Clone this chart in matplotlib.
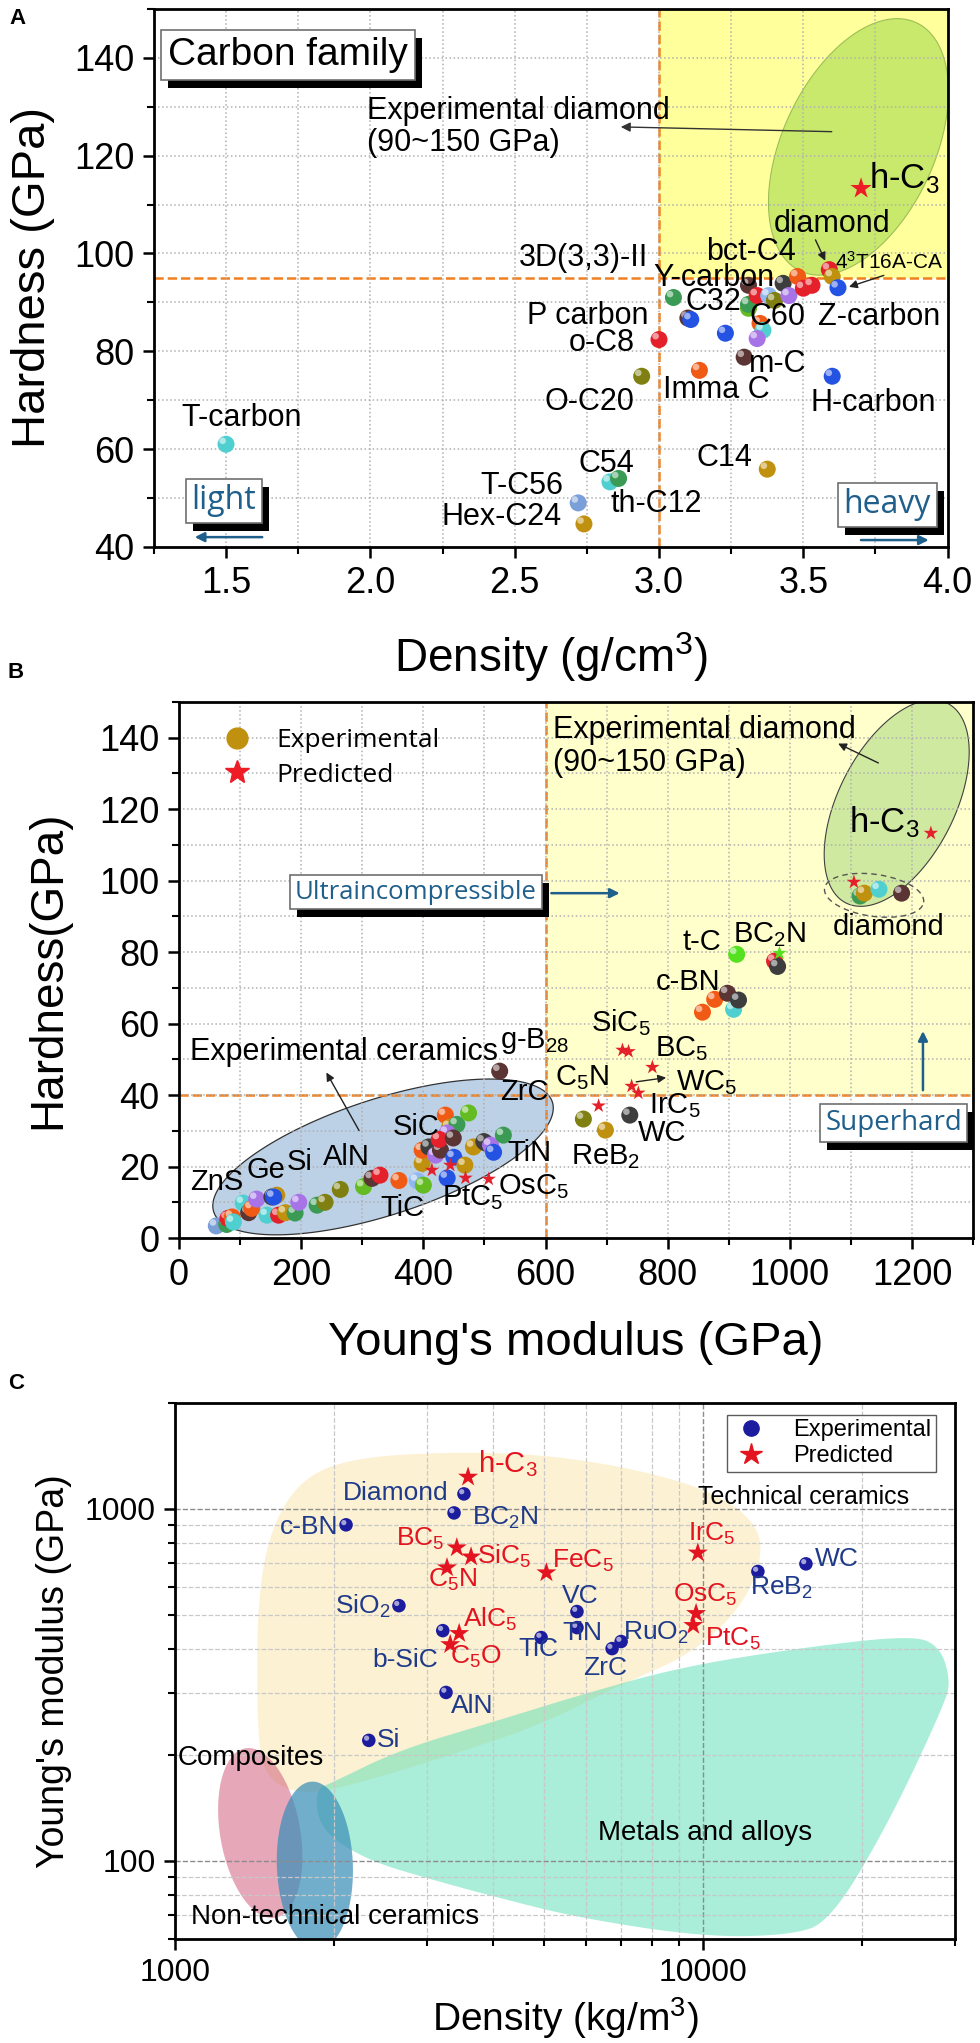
import numpy as np
import matplotlib
matplotlib.use('Agg')
import matplotlib.pyplot as plt
import matplotlib.transforms as mtransforms
from matplotlib.patches import Polygon, Rectangle
from matplotlib.lines import Line2D
from matplotlib.ticker import MultipleLocator, FixedLocator, NullFormatter, FuncFormatter

plt.rcParams['font.family'] = ['Liberation Sans', 'DejaVu Sans']
plt.rcParams['mathtext.fontset'] = 'custom'
plt.rcParams['mathtext.rm'] = 'Liberation Sans'
plt.rcParams['mathtext.it'] = 'Liberation Sans:italic'
plt.rcParams['mathtext.bf'] = 'Liberation Sans:bold'

# ---------------- colours ----------------
COL = dict(sb='#7b9fd8', gr='#3b9b55', cy='#4fcfcf', og='#f05a14', rd='#e4202a',
           pu='#a674e6', dg='#3d3d3d', go='#c0900f', ol='#7f7f12', br='#5b3434',
           bl='#2453e4', li='#64bb22', lb='#8fb8f0', lg='#55e020')
ORANGE = '#f08020'
BOXBLUE = '#1f5f8b'

# ---------------- panel A data : carbon family ----------------
a_rho = [1.50, 2.74, 2.72, 2.83, 2.86, 3.375, 2.94, 3.00, 3.14, 3.295, 3.60,
         3.10, 3.11, 3.23, 3.05, 3.31, 3.35, 3.36, 3.34, 3.31,
         3.31, 3.34, 3.38, 3.40, 3.43, 3.45, 3.48, 3.50, 3.53, 3.59, 3.60, 3.62]
a_hv = [61.0, 44.7, 49.0, 53.3, 54.0, 55.9, 74.9, 82.4, 76.1, 78.8, 74.9,
        86.8, 86.5, 83.7, 91.0, 88.8, 85.7, 84.3, 82.6, 89.6,
        93.5, 91.4, 91.4, 90.4, 93.9, 91.4, 95.3, 92.9, 93.5, 96.7, 95.3, 93.0]
a_col = ['cy', 'go', 'sb', 'cy', 'gr', 'go', 'ol', 'rd', 'og', 'br', 'bl',
         'br', 'bl', 'bl', 'gr', 'li', 'og', 'cy', 'pu', 'gr',
         'br', 'rd', 'lb', 'ol', 'dg', 'pu', 'og', 'rd', 'rd', 'rd', 'go', 'bl']
a_pred_rho = [3.70]
a_pred_hv = [113.3]
a_thr_rho, a_thr_hv = 3.0, 95.0
a_labels = [('T-carbon', 1.555, 66.3), ('C54', 2.816, 57.0), ('T-C56', 2.524, 52.4),
            ('Hex-C24', 2.455, 46.1), ('th-C12', 2.99, 48.8), ('C14', 3.226, 58.2),
            ('O-C20', 2.76, 69.6), ('Imma C', 3.198, 72.0), ('m-C', 3.41, 77.5),
            ('H-carbon', 3.743, 69.4), ('o-C8', 2.80, 81.8), ('P carbon', 2.753, 87.3),
            ('C60', 3.41, 87.0), ('Z-carbon', 3.764, 87.0), ('C32', 3.19, 90.0),
            ('Y-carbon', 3.19, 95.0), ('bct-C4', 3.32, 100.4), ('3D(3,3)-II', 2.74, 99.0),
            ('diamond', 3.60, 106.0)]

# ---------------- panel B data : hardness vs Young's modulus ----------------
b_E = [61, 78, 80, 87, 89, 105, 114, 119, 127, 144, 152, 160, 155, 163, 174, 190, 196,
       226, 239, 264, 302, 316, 329, 360, 390, 398, 400, 398, 409, 420, 428, 439, 450,
       436, 443, 455, 474, 439, 426, 449, 468, 482, 502, 499, 510, 515, 531, 525,
       662, 698, 738, 857, 877, 898, 908, 916, 913, 975, 980,
       1115, 1122, 1146, 1183]
b_H = [3.4, 3.8, 5.5, 5.9, 4.5, 9.8, 7.1, 8.3, 10.9, 6.4, 11.5, 12.0, 11.5, 6.4, 7.1, 7.0, 10.0,
       9.2, 10.0, 13.6, 14.4, 16.7, 17.6, 16.1, 16.0, 20.9, 14.8, 24.6, 25.5, 23.2, 24.6, 16.8, 22.6,
       34.4, 31.0, 31.8, 35.0, 29.4, 27.6, 28.0, 20.4, 25.5, 26.6, 27.0, 26.0, 24.0, 28.8, 46.7,
       33.3, 30.2, 34.4, 63.2, 66.8, 68.5, 64.0, 66.6, 79.4, 77.5, 76.0,
       95.7, 96.5, 97.6, 96.5]
b_col = ['sb', 'gr', 'rd', 'og', 'cy', 'cy', 'br', 'og', 'pu', 'cy', 'dg', 'go', 'bl', 'rd', 'go', 'gr', 'pu',
         'gr', 'ol', 'ol', 'li', 'br', 'rd', 'og', 'lb', 'go', 'li', 'og', 'dg', 'pu', 'br', 'bl', 'bl',
         'og', 'go', 'gr', 'li', 'pu', 'rd', 'br', 'go', 'go', 'dg', 'dg', 'pu', 'bl', 'gr', 'br',
         'ol', 'go', 'dg', 'og', 'og', 'br', 'cy', 'dg', 'lg', 'rd', 'dg',
         'gr', 'go', 'cy', 'br']
b_pred_E = [414, 444, 469, 507, 687, 726, 736, 775, 741, 752, 1105, 1231, 983]
b_pred_H = [19.0, 20.4, 16.8, 16.5, 37.0, 52.6, 52.2, 47.8, 42.5, 40.6, 99.6, 113.3, 79.7]
b_pred_col = ['rd'] * 12 + ['lg']
b_thr_E, b_thr_H = 600, 40
b_labels = [('t-C', 825, 82.8), ('BC$_2$N', 907, 84.8), ('c-BN', 780, 71.6),
            ('SiC$_5$', 674, 60.4), ('BC$_5$', 780, 52.9), ('g-B$_{28}$', 526, 55.1),
            ('ZrC', 526, 40.8), ('C$_5$N', 616, 44.8), ('WC$_5$', 813, 43.6),
            ('IrC$_5$', 769, 37.2), ('WC', 752, 29.4), ('ReB$_2$', 641, 22.7),
            ('TiN', 538, 23.8), ('OsC$_5$', 523, 14.3), ('PtC$_5$', 431, 11.2),
            ('TiC', 330, 8.4), ('SiC', 349, 31.0), ('AlN', 236, 22.7), ('Si', 177, 21.3),
            ('Ge', 111, 19.0), ('ZnS', 18, 15.7), ('diamond', 1070, 87.0)]

# ---------------- panel C data : Ashby map ----------------
c_exp_names = ['Diamond', 'BC$_2$N', 'c-BN', 'SiO$_2$', 'b-SiC', 'AlN', 'Si', 'VC', 'TiN',
               'TiC', 'ZrC', 'RuO$_2$', 'ReB$_2$', 'WC']
c_exp_rho = [3525, 3376, 2108, 2655, 3214, 3260, 2328, 5770, 5770, 4935, 6725, 6995, 12700, 15660]
c_exp_E = [1103, 974, 901, 531, 451, 301, 220, 511, 460, 431, 401, 420, 664, 698]
c_exp_lab = [(3289, 1110, 'right'), (3651, 943, 'left'), (2035, 889, 'right'), (2553, 528, 'right'),
             (3149, 373, 'right'), (3333, 275, 'left'), (2415, 220, 'left'), (5405, 564, 'left'),
             (5405, 443, 'left'), (4467, 399, 'left'), (5929, 353, 'left'), (7047, 443, 'left'),
             (12280, 597, 'left'), (16300, 721, 'left')]
c_pred_names = ['BC$_5$', 'SiC$_5$', 'C$_5$N', 'AlC$_5$', 'C$_5$O', 'FeC$_5$', 'IrC$_5$',
                'OsC$_5$', 'PtC$_5$']
c_pred_rho = [3417, 3636, 3274, 3452, 3320, 5050, 9774, 9700, 9580]
c_pred_E = [776, 731, 681, 443, 412, 659, 750, 505, 467]
c_pred_lab = [(3243, 822, 'right'), (3733, 731, 'left'), (3014, 629, 'left'), (3510, 485, 'left'),
              (3320, 381, 'left'), (5176, 713, 'left'), (9376, 849, 'left'), (8776, 570, 'left'),
              (10090, 426, 'left')]
c_hc3 = (3589, 1232)

# region outlines (axes fraction)
tech_ceramics = [(0.105, 0.446), (0.106, 0.632), (0.122, 0.763), (0.160, 0.856), (0.224, 0.897),
                 (0.353, 0.909), (0.481, 0.903), (0.609, 0.871), (0.699, 0.828), (0.747, 0.772),
                 (0.753, 0.707), (0.724, 0.614), (0.660, 0.530), (0.571, 0.474), (0.468, 0.399),
                 (0.353, 0.343), (0.250, 0.297), (0.173, 0.269), (0.128, 0.287), (0.109, 0.334)]
metals = [(0.179, 0.278), (0.203, 0.293), (0.288, 0.353), (0.417, 0.409), (0.519, 0.455),
          (0.647, 0.507), (0.801, 0.543), (0.946, 0.567), (0.981, 0.545), (0.994, 0.483),
          (0.987, 0.440), (0.917, 0.222), (0.840, 0.032), (0.788, 0.007), (0.677, 0.004),
          (0.519, 0.039), (0.417, 0.076), (0.331, 0.110), (0.246, 0.147), (0.186, 0.203)]

fig = plt.figure(figsize=(9.8, 20.43), dpi=100)
axA = fig.add_axes([0.157, 0.7323, 0.810, 0.2633])
axB = fig.add_axes([0.1827, 0.394, 0.8102, 0.2624])
axC = fig.add_axes([0.1786, 0.0509, 0.7959, 0.2624])


def balls(ax, x, y, cols, s=150, z=4):
    r = np.sqrt(s) * 0.2
    tr = mtransforms.offset_copy(ax.transData, fig=fig, x=-r, y=r, units='points')
    for i, (xi, yi, c) in enumerate(zip(x, y, cols)):
        ax.scatter([xi], [yi], s=s, color=c, edgecolors='none', zorder=z + i * 0.01)
        ax.scatter([xi], [yi], s=s * 0.15, color='white', alpha=0.55, edgecolors='none',
                   zorder=z + i * 0.01 + 0.005, transform=tr)


def ellipse(ax, xy, a, b, ang, **kw):
    t = np.linspace(0, 2 * np.pi, 240)
    th = np.radians(ang)
    cx, cy = ax.transData.transform(xy)
    px = cx + a * np.cos(t) * np.cos(th) - b * np.sin(t) * np.sin(th)
    py = cy + a * np.cos(t) * np.sin(th) + b * np.sin(t) * np.cos(th)
    pts = ax.transData.inverted().transform(np.column_stack([px, py]))
    ax.add_patch(Polygon(pts, closed=True, **kw))


def smooth(pts, n=3):
    p = np.array(pts)
    for _ in range(n):
        q = np.roll(p, -1, axis=0)
        a = 0.75 * p + 0.25 * q
        b = 0.25 * p + 0.75 * q
        p = np.stack([a, b], axis=1).reshape(-1, 2)
    return p


boxed = []


def sbox(ax, x, y, s, color, size, family):
    t = ax.text(x, y, s, color=color, fontsize=size, family=family, va='center', ha='left',
                bbox=dict(boxstyle='square,pad=0.18', fc='white', ec='#707070', lw=1.2), zorder=9)
    boxed.append((ax, t))


def style(ax, tsize):
    ax.set_axisbelow(False)
    for sp in ax.spines.values():
        sp.set_linewidth(2)
        sp.set_zorder(10)
    ax.tick_params(which='major', direction='out', length=8, width=1.8, labelsize=tsize, pad=6)
    ax.tick_params(which='minor', direction='out', length=5, width=1.5)
    ax.tick_params(top=False, right=False, which='both')


# ======================= panel A =======================
axA.set_xlim(1.25, 4.0)
axA.set_ylim(40, 150)
axA.xaxis.set_major_locator(MultipleLocator(0.5))
axA.xaxis.set_minor_locator(MultipleLocator(0.25))
axA.yaxis.set_major_locator(MultipleLocator(20))
axA.yaxis.set_minor_locator(MultipleLocator(10))
axA.xaxis.set_major_formatter(FuncFormatter(lambda v, p: '%.1f' % v))
style(axA, 26)
axA.grid(True, which='both', ls=':', color='#b0b0b0', lw=1.1)
axA.fill_between([a_thr_rho, 4.0], a_thr_hv, 150, color='#ffff9c', zorder=0.5, lw=0)
axA.axvline(a_thr_rho, color=ORANGE, ls='--', lw=1.8, zorder=1.5)
axA.axhline(a_thr_hv, color=ORANGE, ls='--', lw=1.8, zorder=1.5)
ellipse(axA, (3.691, 121.8), 137, 76, 65, fc='#c9e96c', ec='#9cbf55', lw=0.8, zorder=1)
balls(axA, a_rho, a_hv, [COL[c] for c in a_col], s=150)
axA.scatter(a_pred_rho, a_pred_hv, marker='*', s=260, color='#ee1c25', zorder=6, edgecolors='none')
for t, x, y in a_labels:
    axA.text(x, y, t, fontsize=22, ha='center', va='center', zorder=7)
axA.text(3.726, 115.5, 'h-C$_3$', fontsize=25, ha='left', va='center', zorder=7)
axA.text(3.61, 98.2, '4$^3$T16A-CA', fontsize=15, ha='left', va='center', zorder=7)
axA.text(1.99, 125.8, 'Experimental diamond\n(90~150 GPa)', fontsize=22, ha='left', va='center',
         linespacing=1.1, zorder=7)
axA.annotate('', xy=(2.858, 125.9), xytext=(3.608, 124.9),
             arrowprops=dict(arrowstyle='-|>', color='#333333', lw=1, mutation_scale=14), zorder=7)
axA.annotate('', xy=(3.58, 98.0), xytext=(3.538, 103.3),
             arrowprops=dict(arrowstyle='-|>', color='#222222', lw=1, mutation_scale=12), zorder=7)
axA.annotate('', xy=(3.649, 93.0), xytext=(3.788, 95.7),
             arrowprops=dict(arrowstyle='-|>', color='#222222', lw=1, mutation_scale=12), zorder=7)
sbox(axA, 1.30, 140.6, 'Carbon family', 'black', 28, ['Liberation Sans'])
sbox(axA, 1.38, 49.4, 'light', BOXBLUE, 23, ['Open Sans'])
sbox(axA, 3.64, 48.6, 'heavy', BOXBLUE, 23, ['Open Sans'])
axA.annotate('', xy=(1.382, 42.0), xytext=(1.635, 42.0),
             arrowprops=dict(arrowstyle='-|>', color=BOXBLUE, lw=1.8, mutation_scale=14), zorder=7)
axA.annotate('', xy=(3.944, 41.4), xytext=(3.69, 41.4),
             arrowprops=dict(arrowstyle='-|>', color=BOXBLUE, lw=1.8, mutation_scale=14), zorder=7)
axA.set_xlabel('Density (g/cm$^3$)', fontsize=33)
axA.set_ylabel('Hardness (GPa)', fontsize=34)
axA.xaxis.set_label_coords(0.5, -0.155)
axA.yaxis.set_label_coords(-0.125, 0.5)

# ======================= panel B =======================
axB.set_xlim(0, 1300)
axB.set_ylim(0, 150)
axB.xaxis.set_major_locator(MultipleLocator(200))
axB.xaxis.set_minor_locator(MultipleLocator(100))
axB.yaxis.set_major_locator(MultipleLocator(20))
axB.yaxis.set_minor_locator(MultipleLocator(10))
style(axB, 26)
axB.grid(True, which='both', ls=':', color='#b0b0b0', lw=1.1)
axB.fill_between([b_thr_E, 1300], b_thr_H, 150, color='#ffffcc', zorder=0.5, lw=0)
axB.axvline(b_thr_E, color=ORANGE, ls='--', lw=1.8, zorder=1.5)
axB.axhline(b_thr_H, color=ORANGE, ls='--', lw=1.8, zorder=1.5)
ellipse(axB, (1175, 121.7), 112, 58, 63, fc='#cfe9a0', ec='#404040', lw=0.8, zorder=1)
ellipse(axB, (334, 22.7), 178, 58, 18, fc='#bcd0e6', ec='#333333', lw=0.9, zorder=1)
ellipse(axB, (1138, 95.9), 50, 21, -8, fc='none', ec='#555555', lw=1, ls=(0, (4, 3)), zorder=3)
balls(axB, b_E, b_H, [COL[c] for c in b_col], s=150)
axB.scatter(b_pred_E, b_pred_H, marker='*', s=120, color=[COL[c] for c in b_pred_col],
            zorder=6, edgecolors='none')
for t, x, y in b_labels:
    axB.text(x, y, t, fontsize=21, ha='left', va='center', zorder=7)
axB.text(1097, 116.4, 'h-C$_3$', fontsize=25, ha='left', va='center', zorder=7)
axB.text(613, 137.6, 'Experimental diamond\n(90~150 GPa)', fontsize=22, ha='left', va='center',
         linespacing=1.15, zorder=7)
axB.text(18, 52.0, 'Experimental ceramics', fontsize=22, ha='left', va='center', zorder=7)
axB.annotate('', xy=(1075, 138.7), xytext=(1149, 132.6),
             arrowprops=dict(arrowstyle='-|>', color='#222222', lw=1, mutation_scale=12), zorder=7)
axB.annotate('', xy=(239, 47.0), xytext=(297, 29.4),
             arrowprops=dict(arrowstyle='-|>', color='#222222', lw=1, mutation_scale=12), zorder=7)
axB.annotate('', xy=(802, 45.0), xytext=(744, 43.6),
             arrowprops=dict(arrowstyle='-|>', color='#222222', lw=1, mutation_scale=12), zorder=7)
sbox(axB, 190, 96.8, 'Ultraincompressible', BOXBLUE, 18.5, ['Open Sans'])
sbox(axB, 1058, 32.2, 'Superhard', BOXBLUE, 20, ['Open Sans'])
axB.annotate('', xy=(726, 96.5), xytext=(605, 96.5),
             arrowprops=dict(arrowstyle='-|>', color=BOXBLUE, lw=1.8, mutation_scale=14), zorder=7)
axB.annotate('', xy=(1218, 58.7), xytext=(1218, 40.6),
             arrowprops=dict(arrowstyle='-|>', color=BOXBLUE, lw=1.8, mutation_scale=14), zorder=7)
hB = [Line2D([], [], marker='o', ls='none', color=COL['go'], markersize=15),
      Line2D([], [], marker='*', ls='none', color='#ee1c25', markersize=18)]
axB.legend(hB, ['Experimental', 'Predicted'], loc='upper left', bbox_to_anchor=(0.01, 0.995),
           frameon=False, prop={'family': 'Open Sans', 'size': 19}, handletextpad=0.5,
           labelspacing=0.35)
axB.set_xlabel("Young's modulus (GPa)", fontsize=34)
axB.set_ylabel('Hardness(GPa)', fontsize=33)
axB.xaxis.set_label_coords(0.5, -0.155)
axB.yaxis.set_label_coords(-0.137, 0.5)

# ======================= panel C =======================
axC.set_xscale('log')
axC.set_yscale('log')
axC.set_xlim(1000, 30000)
axC.set_ylim(60, 2000)
axC.xaxis.set_major_locator(FixedLocator([1000, 10000]))
axC.xaxis.set_minor_locator(FixedLocator([2000, 3000, 4000, 5000, 6000, 7000, 8000, 9000, 20000, 30000]))
axC.yaxis.set_major_locator(FixedLocator([100, 1000]))
axC.yaxis.set_minor_locator(FixedLocator([60, 70, 80, 90, 200, 300, 400, 500, 600, 700, 800, 900, 2000]))
fmt = FuncFormatter(lambda v, p: '%d' % v)
axC.xaxis.set_major_formatter(fmt)
axC.yaxis.set_major_formatter(fmt)
axC.xaxis.set_minor_formatter(NullFormatter())
axC.yaxis.set_minor_formatter(NullFormatter())
style(axC, 23)
axC.grid(True, which='major', ls='--', color='#8c8c8c', lw=1)
axC.grid(True, which='minor', ls='--', color='#c8c8c8', lw=0.9)
axC.add_patch(Polygon(smooth(tech_ceramics), closed=True, transform=axC.transAxes,
                      fc='#fcf1d2', ec='none', zorder=0.6))
axC.add_patch(Polygon(smooth(metals), closed=True, transform=axC.transAxes,
                      fc='#57ddb3', alpha=0.5, ec='none', zorder=0.7))
ellipse(axC, (1450, 120), 86, 40, 100, fc='#d2607f', alpha=0.55, ec='none', zorder=0.8)
ellipse(axC, (1840, 97), 84, 38, 92, fc='#3b8fb8', alpha=0.72, ec='none', zorder=0.9)
axC.scatter(c_exp_rho, c_exp_E, s=95, color='#1c1c9e', zorder=5, edgecolors='none')
trC = mtransforms.offset_copy(axC.transData, fig=fig, x=-1.6, y=1.6, units='points')
axC.scatter(c_exp_rho, c_exp_E, s=14, color='white', alpha=0.6, zorder=5.1, edgecolors='none',
            transform=trC)
axC.scatter(c_pred_rho + [c_hc3[0]], c_pred_E + [c_hc3[1]], marker='*', s=230, color='#e3141f',
            zorder=6, edgecolors='none')
for n, (x, y, ha) in zip(c_exp_names, c_exp_lab):
    axC.text(x, y, n, fontsize=19, color='#1f3a8a', ha=ha, va='center', zorder=7)
for n, (x, y, ha) in zip(c_pred_names, c_pred_lab):
    axC.text(x, y, n, fontsize=19, color='#e3141f', ha=ha, va='center', zorder=7)
axC.text(3750, 1349, 'h-C$_3$', fontsize=21, color='#e3141f', ha='left', va='center', zorder=7)
axC.text(9784, 1081, 'Technical ceramics', fontsize=18, ha='left', va='center', zorder=7)
axC.text(1013, 196, 'Composites', fontsize=20, ha='left', va='center', zorder=7)
axC.text(1072, 69.3, 'Non-technical ceramics', fontsize=20, ha='left', va='center', zorder=7)
axC.text(6324, 120, 'Metals and alloys', fontsize=20, ha='left', va='center', zorder=7)
hC = [Line2D([], [], marker='o', ls='none', color='#1c1c9e', markersize=11),
      Line2D([], [], marker='*', ls='none', color='#e3141f', markersize=16)]
legC = axC.legend(hC, ['Experimental', 'Predicted'], loc='upper right', bbox_to_anchor=(0.982, 0.987),
                  frameon=True, fancybox=False, edgecolor='#333333', fontsize=17, handletextpad=1.0,
                  labelspacing=0.15, borderpad=0.2, handlelength=1.6, borderaxespad=0.2)
legC.get_frame().set_linewidth(1)
legC.set_zorder(11)
axC.set_xlabel('Density (kg/m$^3$)', fontsize=28)
axC.set_ylabel("Young's modulus (GPa)", fontsize=27)
axC.xaxis.set_label_coords(0.5, -0.105)
axC.yaxis.set_label_coords(-0.132, 0.5)

fig.text(0.010, 0.996, 'A', fontsize=16, weight='bold', va='top')
fig.text(0.008, 0.676, 'B', fontsize=16, weight='bold', va='top')
fig.text(0.008, 0.328, 'C', fontsize=16, weight='bold', va='top')

# black drop shadows behind the boxed notes
fig.canvas.draw()
for ax, t in boxed:
    bb = t.get_bbox_patch().get_window_extent()
    (x0, y0), (x1, y1) = ax.transData.inverted().transform([[bb.x0 + 7, bb.y0 - 8], [bb.x1 + 7, bb.y1 - 8]])
    ax.add_patch(Rectangle((x0, y0), x1 - x0, y1 - y0, fc='black', ec='none', zorder=8.5, clip_on=False))

fig.savefig('out.png', dpi=100)
